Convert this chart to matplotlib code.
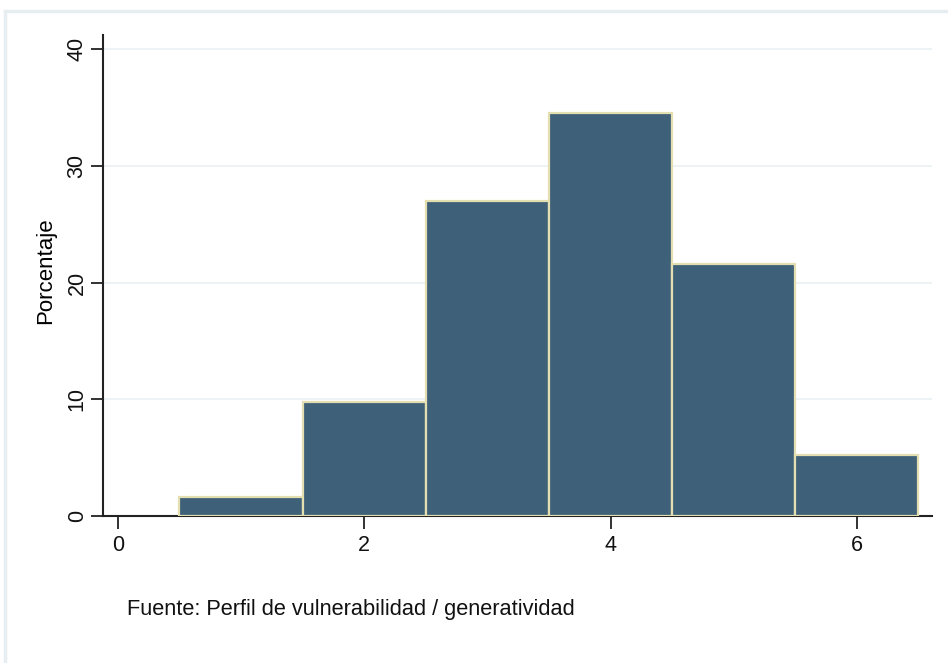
import matplotlib.pyplot as plt
from matplotlib.patches import Rectangle

# histogram bins (centres) and percentages
bin_centers = [1, 2, 3, 4, 5, 6]
percentages = [1.6, 9.8, 27.0, 34.5, 21.6, 5.2]
x_ticks = [0, 2, 4, 6]
y_ticks = [0, 10, 20, 30, 40]
source_note = "Fuente: Perfil de vulnerabilidad / generatividad"

plt.rcParams['font.family'] = ['Liberation Sans', 'DejaVu Sans']

fig = plt.figure(figsize=(9.48, 6.63), dpi=100)
fig.patch.set_facecolor('white')

# light outer frame like the Stata graph region
fig.patches.append(Rectangle((5 / 948, -0.01), 1.0, 1 - 11 / 663 + 0.01,
                             transform=fig.transFigure, fill=False,
                             edgecolor='#e6eef2', linewidth=2.5))

ax = fig.add_axes([103 / 948, 1 - 516 / 663, (932 - 103) / 948, (516 - 35) / 663])

ax.bar(bin_centers, percentages, width=1.0, color='#3e6179',
       edgecolor='#e4dfb0', linewidth=1.6, zorder=3)

ax.set_xlim(-0.12, 6.61)
ax.set_ylim(0, 41.2)
ax.set_xticks(x_ticks)
ax.set_yticks(y_ticks)
ax.set_yticklabels([str(v) for v in y_ticks], rotation=90, va='center')
ax.tick_params(axis='both', direction='out', length=9, width=1.3,
               labelsize=15.5, color='#222222', labelcolor='#111111')
ax.tick_params(axis='y', pad=2)
ax.tick_params(axis='x', pad=5)

ax.grid(axis='y', color='#eaf1f4', linewidth=1.2, zorder=0)
ax.set_axisbelow(True)
for s in ['top', 'right']:
    ax.spines[s].set_visible(False)
for s in ['left', 'bottom']:
    ax.spines[s].set_linewidth(1.5)
    ax.spines[s].set_color('#222222')

ax.set_ylabel('Porcentaje', fontsize=16)
ax.yaxis.set_label_coords(-0.056, 0.51)

fig.text(127 / 948, 1 - 610 / 663, source_note, fontsize=15.7,
         va='center', ha='left', color='#111111')

fig.savefig('out.png', dpi=100)
